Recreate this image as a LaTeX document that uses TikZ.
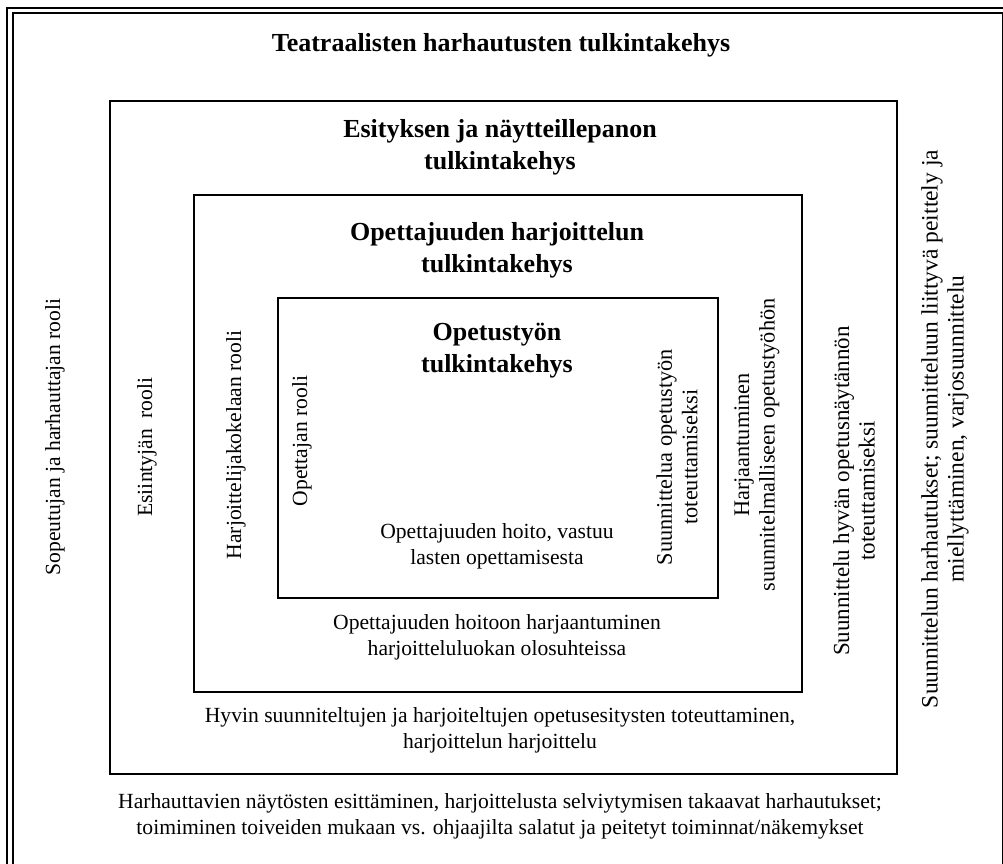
\documentclass[tikz,border=0pt]{standalone}
\usepackage{fontspec}
\setmainfont{Liberation Serif}
\begin{document}
\begin{tikzpicture}[x=1pt,y=-1pt,
  frameline/.style={line width=2pt,black},
  boxline/.style={line width=1.8pt,black},
  body/.style={inner sep=0pt,align=center,font=\fontsize{21.6}{26}\selectfont},
  vbody/.style={body,rotate=90},
  heading/.style={inner sep=0pt,align=center,font=\fontsize{26}{32}\selectfont\bfseries}]
\useasboundingbox (0,0) rectangle (1003,863);
\clip (0,0) rectangle (1003,863);
% double page frame
\draw[frameline] (7,7.5) rectangle (1012,880);
\draw[frameline] (12.5,13) rectangle (1003.4,875);
% nested frames
\draw[boxline] (110,101) rectangle (897,774);
\draw[boxline] (194,195) rectangle (802,692);
\draw[boxline] (278,298) rectangle (718,598);
% headings
\node[heading] (t0) at (501,45) {Teatraalisten harhautusten tulkintakehys};
\node[heading] (t1) at (500,147) {Esityksen ja näytteillepanon\\tulkintakehys};
\node[heading] (t2) at (497,250) {Opettajuuden harjoittelun\\tulkintakehys};
\node[heading] (t3) at (497,351) {Opetustyön\\tulkintakehys};
% horizontal descriptions
\node[body] (d3) at (497,546) {Opettajuuden hoito, vastuu\\lasten opettamisesta};
\node[body] (d2) at (497,637) {Opettajuuden hoitoon harjaantuminen\\harjoitteluluokan olosuhteissa};
\node[body] (d1) at (500,730) {Hyvin suunniteltujen ja harjoiteltujen opetusesitysten toteuttaminen,\\harjoittelun harjoittelu};
\node[body] (d0) at (500,816) {Harhauttavien näytösten esittäminen, harjoittelusta selviytymisen takaavat harhautukset;\\toimiminen toiveiden mukaan vs. ohjaajilta salatut ja peitetyt toiminnat/näkemykset};
% roles on the left
\node[vbody] (r0) at (55,437) {Sopeutujan ja harhauttajan rooli};
\node[vbody] (r1) at (147,447) {Esiintyjän\ \ rooli};
\node[vbody] (r2) at (236,445) {Harjoittelijakokelaan rooli};
\node[vbody] (r3) at (302,441) {Opettajan rooli};
% planning on the right
\node[vbody,font=\fontsize{22.3}{25.5}\selectfont] (p3) at (677,457) {Suunnittelua opetustyön\\toteuttamiseksi};
\node[vbody,font=\fontsize{22.3}{25.5}\selectfont] (p2) at (757,445) {Harjaantuminen\\suunnitelmalliseen opetustyöhön};
\node[vbody,font=\fontsize{23}{25.5}\selectfont] (p1) at (854,491) {Suunnittelu hyvän opetusnäytännön\\toteuttamiseksi};
\node[vbody,font=\fontsize{23.5}{26}\selectfont] (p0) at (945,429) {Suunnittelun harhautukset; suunnitteluun liittyvä peittely ja\\miellyttäminen, varjosuunnittelu};
\end{tikzpicture}
\end{document}
